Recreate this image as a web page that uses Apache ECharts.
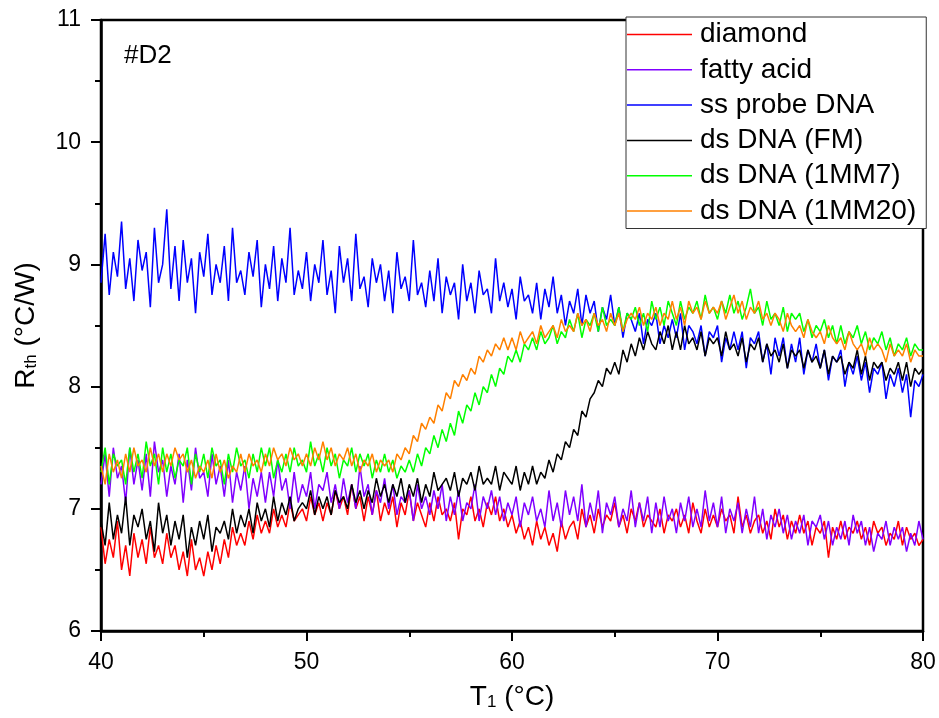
<!DOCTYPE html>
<html>
<head>
<meta charset="utf-8">
<script src="https://cdn.jsdelivr.net/npm/echarts@6/dist/echarts.min.js"></script>
<style>
    html, body { margin: 0; padding: 0; background: #fff; }
    #chart { width: 939px; height: 718px; }
</style>
</head>
<body>
<div id="chart"></div>
<script>
    // temperature T1 (°C), one sample every 0.2 °C
    let temps = [
        40,40.2,40.4,40.6,40.8,41,41.2,41.4,41.6,41.8,42,42.2,42.4,42.6,42.8,43,43.2,43.4,43.6,43.8,
        44,44.2,44.4,44.6,44.8,45,45.2,45.4,45.6,45.8,46,46.2,46.4,46.6,46.8,47,47.2,47.4,47.6,47.8,
        48,48.2,48.4,48.6,48.8,49,49.2,49.4,49.6,49.8,50,50.2,50.4,50.6,50.8,51,51.2,51.4,51.6,51.8,
        52,52.2,52.4,52.6,52.8,53,53.2,53.4,53.6,53.8,54,54.2,54.4,54.6,54.8,55,55.2,55.4,55.6,55.8,
        56,56.2,56.4,56.6,56.8,57,57.2,57.4,57.6,57.8,58,58.2,58.4,58.6,58.8,59,59.2,59.4,59.6,59.8,
        60,60.2,60.4,60.6,60.8,61,61.2,61.4,61.6,61.8,62,62.2,62.4,62.6,62.8,63,63.2,63.4,63.6,63.8,
        64,64.2,64.4,64.6,64.8,65,65.2,65.4,65.6,65.8,66,66.2,66.4,66.6,66.8,67,67.2,67.4,67.6,67.8,
        68,68.2,68.4,68.6,68.8,69,69.2,69.4,69.6,69.8,70,70.2,70.4,70.6,70.8,71,71.2,71.4,71.6,71.8,
        72,72.2,72.4,72.6,72.8,73,73.2,73.4,73.6,73.8,74,74.2,74.4,74.6,74.8,75,75.2,75.4,75.6,75.8,
        76,76.2,76.4,76.6,76.8,77,77.2,77.4,77.6,77.8,78,78.2,78.4,78.6,78.8,79,79.2,79.4,79.6,79.8,
        80
    ];

    // R_th (°C/W)
    let diamond = [
        6.85,6.55,6.75,6.6,6.9, 6.5,6.7,6.45,6.8,6.6, 6.75,6.55,6.85,6.6,6.7, 6.55,6.8,6.6,6.7,6.5,
        6.65,6.45,6.75,6.5,6.6, 6.45,6.65,6.5,6.7,6.55, 6.75,6.6,6.85,6.7,6.8, 6.7,6.9,6.75,6.95,6.8,
        6.9,6.8,7.0,6.85,6.95, 6.85,7.05,6.9,6.95,7.0, 6.9,7.1,6.95,7.05,6.9, 7.05,6.95,7.15,7.0,7.1,
        6.95,7.2,7.0,7.1,6.9, 7.1,6.95,7.15,6.9,7.05, 6.95,7.1,6.85,7.05,6.95, 7.15,6.9,7.05,6.95,6.85,
        7.05,6.9,7.1,6.95,7.0, 6.9,7.05,6.75,7.0,6.95, 7.1,6.9,7.0,6.85,7.05, 6.95,7.1,6.9,7.0,6.85,
        6.95,6.8,6.9,6.75,6.85, 6.7,6.9,6.75,6.85,6.7, 6.8,6.65,6.9,6.75,6.85, 6.9,6.75,7.0,6.85,6.95,
        6.8,7.0,6.85,6.95,6.9, 7.05,6.85,6.95,6.8,7.0, 6.9,7.05,6.85,6.95,6.9, 6.85,7.0,6.8,6.95,6.9,
        7.0,6.85,6.95,6.8,7.05, 6.9,6.8,7.0,6.85,6.95, 6.85,7.0,6.9,6.95,6.8, 7.1,6.85,6.95,6.8,6.9,
        6.95,6.8,6.9,6.75,7.0, 6.85,6.95,6.75,6.9,6.8, 6.95,6.8,6.9,6.7,6.85, 6.8,6.9,6.6,6.85,6.75,
        6.9,6.75,6.85,6.8,6.9, 6.75,6.85,6.7,6.9,6.8, 6.85,6.7,6.8,6.75,6.9, 6.7,6.85,6.75,6.8,6.7,
        6.75
    ];
    let fattyAcid = [
        7.2,7.45,7.1,7.5,7.25, 7.35,7.05,7.5,7.2,7.4, 7.15,7.45,7.1,7.55,7.3, 7.4,7.1,7.35,7.2,7.45,
        7.05,7.4,7.15,7.5,7.25, 7.3,7.1,7.45,7.2,7.35, 7.1,7.4,7.05,7.3,7.15, 7.35,7.0,7.25,7.1,7.3,
        7.05,7.3,7.1,7.4,7.15, 7.25,7.0,7.3,7.05,7.2, 7.1,7.3,7.0,7.2,7.15, 7.3,7.05,7.2,7.0,7.25,
        7.05,7.2,7.0,7.35,7.1, 7.2,6.95,7.15,7.05,7.25, 7.0,7.2,6.95,7.1,7.05, 7.15,6.9,7.2,7.0,7.1,
        6.95,7.15,7.0,7.2,6.9, 7.1,6.95,7.15,6.9,7.05, 7.0,7.2,6.9,7.1,7.0, 7.15,6.95,7.1,6.9,7.05,
        6.95,7.1,6.85,7.05,6.95, 7.1,6.9,7.0,6.85,7.15, 6.9,7.05,6.85,7.15,6.95, 7.1,6.9,7.2,6.85,7.05,
        6.9,7.15,6.8,7.05,6.95, 7.1,6.85,7.0,6.9,7.15, 6.85,7.05,6.9,7.1,6.8, 7.05,6.85,7.1,6.9,7.0,
        6.8,7.05,6.9,7.1,6.85, 7.0,6.85,7.15,6.9,7.05, 6.85,7.1,6.8,7.0,6.9, 7.05,6.8,7.0,6.85,7.1,
        6.8,7.0,6.75,6.95,6.85, 7.0,6.8,6.95,6.75,6.9, 6.8,6.95,6.7,6.9,6.85, 6.95,6.75,6.9,6.7,6.85,
        6.75,6.9,6.7,6.95,6.8, 6.9,6.7,6.85,6.65,6.8, 6.75,6.9,6.7,6.85,6.75, 6.85,6.65,6.8,6.7,6.9,
        6.75
    ];
    let ssProbe = [
        8.85,9.25,8.75,9.1,8.9, 9.35,8.8,9.05,8.7,9.2, 8.95,9.1,8.65,9.3,8.85, 9.0,9.45,8.8,9.15,8.7,
        9.2,8.85,9.05,8.6,9.1, 8.9,9.25,8.75,9.0,8.85, 9.15,8.7,9.3,8.85,8.95, 8.75,9.1,8.9,9.2,8.65,
        9.0,8.8,9.15,8.7,9.05, 8.85,9.3,8.75,8.95,8.8, 9.1,8.7,9.0,8.85,9.2, 8.75,8.95,8.6,9.15,8.85,
        9.05,8.7,9.25,8.8,8.9, 8.65,9.05,8.85,9.0,8.7, 8.95,8.6,9.1,8.8,8.9, 8.7,9.2,8.75,8.85,8.65,
        8.95,8.7,9.05,8.6,8.9, 8.75,8.85,8.55,9.0,8.7, 8.85,8.6,8.95,8.75,8.8, 8.6,9.05,8.7,8.85,8.65,
        8.8,8.55,8.9,8.7,8.75, 8.6,8.85,8.55,8.8,8.65, 8.9,8.6,8.75,8.5,8.7, 8.6,8.8,8.5,8.75,8.6,
        8.7,8.45,8.65,8.55,8.75, 8.5,8.65,8.4,8.6,8.55, 8.45,8.6,8.35,8.55,8.5, 8.6,8.35,8.5,8.4,8.55,
        8.4,8.6,8.3,8.5,8.45, 8.35,8.5,8.25,8.45,8.4, 8.5,8.2,8.4,8.3,8.45, 8.3,8.45,8.15,8.4,8.35,
        8.45,8.2,8.35,8.1,8.4, 8.25,8.4,8.15,8.35,8.2, 8.4,8.1,8.3,8.2,8.35, 8.15,8.3,8.05,8.25,8.2,
        8.3,8.0,8.2,8.1,8.25, 8.05,8.2,7.95,8.15,8.1, 8.2,7.9,8.1,8.0,8.15, 7.95,8.1,7.75,8.05,8.0,
        8.1
    ];
    let dsFM = [
        6.9,6.7,7.05,6.75,6.95, 6.8,7.1,6.7,6.95,6.85, 7.0,6.75,6.9,6.65,7.05, 6.8,6.95,6.7,6.9,6.75,
        6.95,6.6,6.85,6.7,6.9, 6.75,6.95,6.65,6.85,6.8, 6.9,6.75,7.0,6.8,6.95, 6.85,7.0,6.8,7.05,6.9,
        7.0,6.85,7.1,6.9,7.05, 6.95,7.1,6.9,7.0,7.05, 7.0,7.15,6.95,7.1,7.0, 7.1,6.95,7.15,7.05,7.1,
        7.0,7.2,7.05,7.15,7.0, 7.15,7.05,7.25,7.1,7.2, 7.05,7.2,7.1,7.25,7.05, 7.2,7.1,7.25,7.05,7.2,
        7.1,7.3,7.15,7.2,7.25, 7.15,7.3,7.1,7.25,7.2, 7.3,7.15,7.35,7.2,7.25, 7.2,7.35,7.15,7.3,7.25,
        7.2,7.35,7.15,7.3,7.2, 7.35,7.2,7.3,7.25,7.4, 7.3,7.45,7.4,7.55,7.5, 7.65,7.6,7.8,7.75,7.9,
        7.95,8.05,8.0,8.15,8.1, 8.2,8.1,8.3,8.2,8.35, 8.25,8.4,8.3,8.45,8.35, 8.3,8.45,8.35,8.5,8.3,
        8.45,8.3,8.5,8.35,8.4, 8.3,8.45,8.25,8.4,8.35, 8.4,8.25,8.45,8.3,8.35, 8.25,8.4,8.2,8.35,8.3,
        8.4,8.2,8.35,8.25,8.3, 8.2,8.35,8.15,8.3,8.25, 8.3,8.15,8.3,8.2,8.25, 8.15,8.3,8.1,8.25,8.2,
        8.25,8.1,8.2,8.15,8.3, 8.1,8.25,8.05,8.2,8.15, 8.2,8.05,8.15,8.1,8.2, 8.05,8.2,8.0,8.15,8.1,
        8.15
    ];
    let ds1MM7 = [
        7.3,7.5,7.2,7.45,7.35, 7.4,7.2,7.5,7.3,7.45, 7.25,7.55,7.35,7.45,7.2, 7.5,7.3,7.45,7.25,7.4,
        7.35,7.5,7.2,7.45,7.3, 7.45,7.25,7.5,7.35,7.4, 7.2,7.45,7.3,7.5,7.35, 7.4,7.25,7.45,7.3,7.5,
        7.35,7.5,7.25,7.4,7.3, 7.45,7.3,7.5,7.35,7.4, 7.3,7.55,7.35,7.45,7.3, 7.5,7.35,7.45,7.25,7.4,
        7.35,7.5,7.3,7.45,7.35, 7.45,7.25,7.4,7.3,7.45, 7.3,7.4,7.25,7.35,7.3, 7.4,7.3,7.45,7.35,7.5,
        7.45,7.6,7.5,7.65,7.55, 7.7,7.6,7.8,7.7,7.85, 7.8,7.95,7.85,8.0,7.95, 8.1,8.0,8.15,8.1,8.25,
        8.2,8.3,8.2,8.35,8.3, 8.4,8.3,8.45,8.35,8.4, 8.5,8.35,8.45,8.4,8.55, 8.45,8.6,8.4,8.55,8.5,
        8.6,8.45,8.65,8.5,8.55, 8.5,8.65,8.45,8.6,8.55, 8.65,8.5,8.6,8.45,8.7, 8.55,8.65,8.5,8.7,8.6,
        8.5,8.7,8.55,8.65,8.6, 8.7,8.55,8.75,8.6,8.65, 8.55,8.7,8.6,8.75,8.6, 8.7,8.55,8.65,8.8,8.6,
        8.65,8.5,8.7,8.55,8.6, 8.5,8.65,8.45,8.6,8.55, 8.6,8.45,8.55,8.4,8.5, 8.45,8.55,8.4,8.5,8.35,
        8.5,8.35,8.45,8.4,8.5, 8.35,8.45,8.3,8.4,8.35, 8.45,8.3,8.4,8.25,8.35, 8.3,8.4,8.25,8.35,8.3,
        8.3
    ];
    let ds1MM20 = [
        7.35,7.2,7.45,7.3,7.4, 7.25,7.45,7.3,7.5,7.35, 7.4,7.3,7.5,7.35,7.45, 7.3,7.45,7.35,7.5,7.4,
        7.45,7.3,7.4,7.25,7.35, 7.3,7.4,7.25,7.45,7.3, 7.4,7.25,7.35,7.3,7.45, 7.3,7.45,7.35,7.4,7.3,
        7.45,7.35,7.5,7.4,7.45, 7.35,7.5,7.4,7.45,7.35, 7.45,7.35,7.5,7.4,7.55, 7.4,7.5,7.35,7.45,7.4,
        7.5,7.35,7.45,7.3,7.4, 7.35,7.45,7.3,7.4,7.35, 7.4,7.3,7.45,7.4,7.5, 7.45,7.6,7.55,7.7,7.65,
        7.75,7.7,7.85,7.8,7.95, 7.9,8.05,8.0,8.1,8.05, 8.15,8.1,8.25,8.2,8.3, 8.25,8.35,8.3,8.4,8.3,
        8.4,8.3,8.45,8.35,8.4, 8.45,8.35,8.5,8.4,8.45, 8.5,8.4,8.55,8.45,8.5, 8.45,8.6,8.5,8.55,8.45,
        8.6,8.5,8.55,8.45,8.6, 8.5,8.6,8.45,8.55,8.6, 8.55,8.65,8.5,8.6,8.55, 8.65,8.5,8.6,8.55,8.7,
        8.55,8.65,8.5,8.7,8.6, 8.65,8.55,8.7,8.6,8.65, 8.6,8.7,8.55,8.65,8.75, 8.6,8.7,8.55,8.65,8.6,
        8.7,8.55,8.6,8.5,8.6, 8.55,8.45,8.6,8.5,8.45, 8.5,8.4,8.55,8.45,8.4, 8.45,8.35,8.5,8.4,8.35,
        8.4,8.3,8.45,8.35,8.3, 8.35,8.25,8.4,8.3,8.35, 8.3,8.2,8.35,8.25,8.3, 8.25,8.35,8.2,8.3,8.25,
        8.25
    ];

    let seriesNames = ['diamond', 'fatty acid', 'ss probe DNA', 'ds DNA (FM)', 'ds DNA (1MM7)', 'ds DNA (1MM20)'];
    let seriesValues = [diamond, fattyAcid, ssProbe, dsFM, ds1MM7, ds1MM20];
    let seriesColors = ['#ff0000', '#8000ff', '#0000ff', '#000000', '#00ff00', '#ff8000'];

    let xTicks = [40, 50, 60, 70, 80];
    let yTicks = [6, 7, 8, 9, 10, 11];

    let font = 'Liberation Sans, Arial, sans-serif';
    let myChart = echarts.init(document.getElementById('chart'));

    let series = seriesNames.map((name, i) => {
        return {
            name: name,
            type: 'line',
            symbol: 'none',
            animation: false,
            color: seriesColors[i],
            lineStyle: {
                width: 1.5
            },
            data: temps.map((t, j) => [t, seriesValues[i][j]])
        };
    });

    // subscripts in the axis titles
    let titleRich = {
        a: {fontSize: 28, fontFamily: font, color: '#000', lineHeight: 34, verticalAlign: 'bottom'},
        s: {fontSize: 17, fontFamily: font, color: '#000', lineHeight: 26, verticalAlign: 'bottom'}
    };

    let option = {
        backgroundColor: '#fff',
        textStyle: {
            fontFamily: font
        },
        grid: {
            left: 101,
            right: 16,
            top: 20,
            bottom: 87,
            show: true,
            borderColor: '#000',
            borderWidth: 2.5
        },
        legend: {
            orient: 'vertical',
            left: 626,
            top: 17,
            padding: [0, 10, 0, 1],
            itemGap: 0.3,
            itemWidth: 65,
            itemHeight: 1.5,
            icon: 'rect',
            backgroundColor: '#fff',
            borderColor: '#333',
            borderWidth: 1,
            borderRadius: 0,
            data: seriesNames,
            textStyle: {
                fontSize: 28,
                lineHeight: 35,
                color: '#000',
                fontFamily: font,
                padding: [0, 0, 0, 3]
            }
        },
        xAxis: {
            type: 'value',
            min: xTicks[0],
            max: xTicks[xTicks.length - 1],
            interval: 10,
            name: '{a|T}{s|1}{a| (°C)}',
            nameLocation: 'middle',
            nameGap: 46,
            nameTextStyle: {rich: titleRich},
            axisLine: {lineStyle: {color: '#000', width: 2.5}},
            axisTick: {length: 10, lineStyle: {color: '#000', width: 2}},
            minorTick: {show: true, splitNumber: 2, length: 6, lineStyle: {color: '#000', width: 2}},
            axisLabel: {fontSize: 23, color: '#000', margin: 20, fontFamily: font},
            splitLine: {show: false}
        },
        yAxis: {
            type: 'value',
            min: yTicks[0],
            max: yTicks[yTicks.length - 1],
            interval: 1,
            name: '{a|R}{s|th}{a| (°C/W)}',
            nameLocation: 'middle',
            nameGap: 61,
            nameTextStyle: {rich: titleRich},
            axisLine: {lineStyle: {color: '#000', width: 2.5}},
            axisTick: {length: 10, lineStyle: {color: '#000', width: 2}},
            minorTick: {show: true, splitNumber: 2, length: 6, lineStyle: {color: '#000', width: 2}},
            axisLabel: {fontSize: 23, color: '#000', margin: 20, fontFamily: font},
            splitLine: {show: false}
        },
        graphic: [{
            type: 'text',
            x: 124,
            y: 56,
            style: {
                text: '#D2',
                fontSize: 26,
                fontFamily: font,
                fill: '#000',
                verticalAlign: 'middle'
            }
        }],
        series: series
    };
    myChart.setOption(option);
</script>
</body>
</html>
